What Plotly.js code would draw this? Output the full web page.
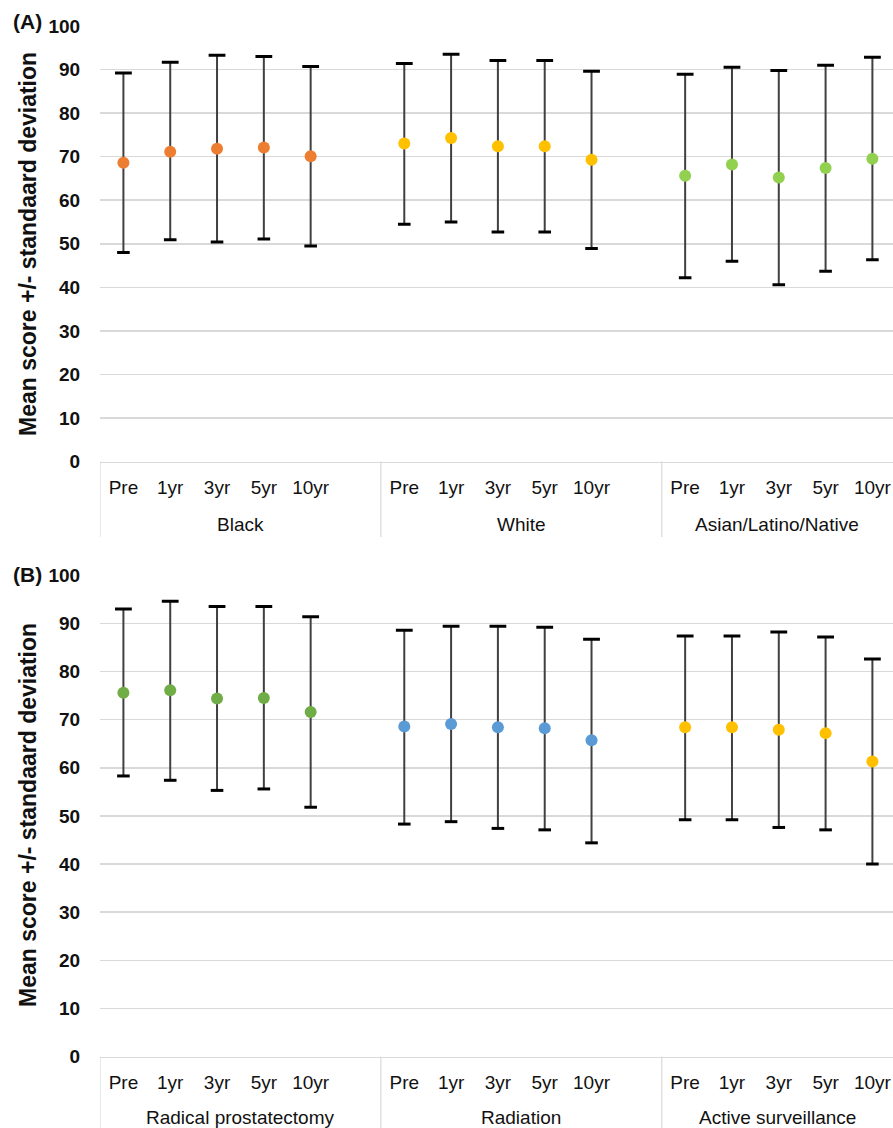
<!DOCTYPE html>
<html>
<head>
<meta charset="utf-8">
<script src="https://cdn.plot.ly/plotly-3.0.1.min.js"></script>
<style>html,body{margin:0;padding:0;background:#fff;}#chart{width:893px;height:1128px;}</style>
</head>
<body>
<div id="chart"></div>
<script>
// ---- data ----
const times = ['Pre', '1yr', '3yr', '5yr', '10yr'];

// Panel A: race groups
const groupsA = ['Black', 'White', 'Asian/Latino/Native'];
const meanBlack  = [68.6, 71.1, 71.8, 72.1, 70.1];
const upperBlack = [89.2, 91.7, 93.3, 93.0, 90.7];
const lowerBlack = [48.0, 50.9, 50.4, 51.1, 49.5];
const meanWhite  = [73.0, 74.3, 72.4, 72.4, 69.3];
const upperWhite = [91.4, 93.5, 92.1, 92.1, 89.6];
const lowerWhite = [54.5, 55.0, 52.7, 52.7, 48.9];
const meanALN    = [65.6, 68.2, 65.2, 67.4, 69.5];
const upperALN   = [88.9, 90.5, 89.8, 91.0, 92.8];
const lowerALN   = [42.2, 46.0, 40.6, 43.7, 46.3];

// Panel B: treatment groups
const groupsB = ['Radical prostatectomy', 'Radiation', 'Active surveillance'];
const meanRP   = [75.6, 76.1, 74.4, 74.5, 71.6];
const upperRP  = [93.0, 94.6, 93.5, 93.5, 91.4];
const lowerRP  = [58.3, 57.4, 55.3, 55.6, 51.8];
const meanRad  = [68.6, 69.1, 68.4, 68.2, 65.7];
const upperRad = [88.6, 89.4, 89.4, 89.2, 86.7];
const lowerRad = [48.3, 48.8, 47.4, 47.1, 44.4];
const meanAS   = [68.4, 68.4, 67.9, 67.2, 61.3];
const upperAS  = [87.4, 87.4, 88.2, 87.2, 82.6];
const lowerAS  = [49.2, 49.2, 47.6, 47.1, 40.0];

const colorsA = ['#ED7D31', '#FFC000', '#92D050'];
const colorsB = ['#70AD47', '#5B9BD5', '#FFC000'];

const yTickVals = [0, 10, 20, 30, 40, 50, 60, 70, 80, 90, 100];

// ---- helpers ----
const FONT = 'Liberation Sans, Arial, sans-serif';
const TXT = '#111';
const H = 1128, W = 893;
const xRange = [-0.5, 16.44];
const traces = [];
const catKey = (g, t) => g + '|' + t;

function categoriesFor(groups) {
  const cats = [];
  groups.forEach(g => { times.forEach(t => cats.push(catKey(g, t))); cats.push(catKey(g, '')); });
  return cats;
}
function tickValsFor(groups) {
  const v = [];
  groups.forEach(g => times.forEach(t => v.push(catKey(g, t))));
  return v;
}
function tickTextFor(groups) {
  const v = [];
  groups.forEach(() => times.forEach(t => v.push(t)));
  return v;
}

function addGroup(group, mean, upper, lower, color, xa, ya) {
  const x = times.map(t => catKey(group, t));
  traces.push({
    type: 'scatter', mode: 'markers', x: x, y: mean,
    xaxis: xa, yaxis: ya, showlegend: false, hoverinfo: 'skip',
    marker: {color: color, size: 12},
    error_y: {type: 'data', symmetric: false,
      array: upper.map((u, i) => u - mean[i]),
      arrayminus: lower.map((l, i) => mean[i] - l),
      color: '#404040', thickness: 2, width: 0}
  });
  traces.push({
    type: 'scatter', mode: 'markers', x: x, y: upper,
    xaxis: xa, yaxis: ya, showlegend: false, hoverinfo: 'skip',
    marker: {symbol: 'line-ew', size: 12, line: {color: '#000', width: 3}}
  });
  traces.push({
    type: 'scatter', mode: 'markers', x: x, y: lower,
    xaxis: xa, yaxis: ya, showlegend: false, hoverinfo: 'skip',
    marker: {symbol: 'line-ew', size: 9, line: {color: '#000', width: 3}}
  });
}
addGroup(groupsA[0], meanBlack, upperBlack, lowerBlack, colorsA[0], 'x', 'y');
addGroup(groupsA[1], meanWhite, upperWhite, lowerWhite, colorsA[1], 'x', 'y');
addGroup(groupsA[2], meanALN, upperALN, lowerALN, colorsA[2], 'x', 'y');
addGroup(groupsB[0], meanRP, upperRP, lowerRP, colorsB[0], 'x2', 'y2');
addGroup(groupsB[1], meanRad, upperRad, lowerRad, colorsB[1], 'x2', 'y2');
addGroup(groupsB[2], meanAS, upperAS, lowerAS, colorsB[2], 'x2', 'y2');

function xAxis(anchor, groups) {
  return {
    type: 'category', anchor: anchor, range: xRange, autorange: false,
    categoryorder: 'array', categoryarray: categoriesFor(groups),
    tickmode: 'array', tickvals: tickValsFor(groups), ticktext: tickTextFor(groups),
    tickangle: 0,
    showgrid: false, zeroline: false, showline: true, linecolor: '#d9d9d9', linewidth: 1.5,
    ticks: 'outside', ticklen: 8, tickcolor: 'rgba(0,0,0,0)',
    tickfont: {family: FONT, size: 19, color: TXT}
  };
}
function yAxis(domain, anchor) {
  return {
    domain: domain, anchor: anchor, range: [0, 100], autorange: false,
    tickmode: 'array', tickvals: yTickVals,
    showgrid: true, gridcolor: '#d9d9d9', gridwidth: 1.5,
    zeroline: false, showline: false,
    ticks: 'outside', ticklen: 15, tickcolor: 'rgba(0,0,0,0)',
    tickfont: {family: FONT, size: 19, color: TXT, weight: 'bold'}
  };
}

// panel geometry (pixels from top)
const panels = [
  {groups: groupsA, xref: 'x', axisY: 461.5, labelY: 524, divEnd: 537},
  {groups: groupsB, xref: 'x2', axisY: 1056.5, labelY: 1117.5, divEnd: 1128}
];
const shapes = [];
const annotations = [];
panels.forEach(p => {
  p.groups.forEach((g, gi) => {
    const start = gi * (times.length + 1) - 0.5;
    const end = Math.min(start + times.length + 1, xRange[1]);
    shapes.push({type: 'line', xref: p.xref, yref: 'paper', x0: start, x1: start,
      y0: 1 - p.axisY / H, y1: 1 - p.divEnd / H, line: {color: '#d9d9d9', width: 1.2}});
    annotations.push({text: g, xref: p.xref, yref: 'paper', x: (start + end) / 2,
      y: 1 - p.labelY / H, xanchor: 'center', yanchor: 'middle', showarrow: false,
      font: {family: FONT, size: 19, color: TXT}});
  });
});
const panelTags = [['(A)', 22], ['(B)', 574]];
panelTags.forEach(([t, py]) => annotations.push({text: t, xref: 'paper', yref: 'paper',
  x: (27 - 100) / 793, y: 1 - py / H, showarrow: false, xanchor: 'center', yanchor: 'middle',
  font: {family: FONT, size: 21, color: TXT, weight: 'bold'}}));
const yTitle = 'Mean score +/- standaard deviation';
[244, 815].forEach(py => annotations.push({text: yTitle, xref: 'paper', yref: 'paper', textangle: -90,
  x: (28 - 100) / 793, y: 1 - py / H, showarrow: false, xanchor: 'center', yanchor: 'middle',
  font: {family: FONT, size: 23, color: TXT, weight: 'bold'}}));

const layout = {
  width: W, height: H,
  margin: {l: 100, r: 0, t: 0, b: 0},
  paper_bgcolor: '#fff', plot_bgcolor: '#fff',
  font: {family: FONT},
  xaxis: xAxis('y', groupsA),
  xaxis2: xAxis('y2', groupsB),
  yaxis: yAxis([1 - 461.5 / H, 1 - 26 / H], 'x'),
  yaxis2: yAxis([1 - 1056.5 / H, 1 - 575.3 / H], 'x2'),
  shapes: shapes,
  annotations: annotations
};
Plotly.newPlot('chart', traces, layout, {displayModeBar: false, staticPlot: true});
</script>
</body>
</html>
